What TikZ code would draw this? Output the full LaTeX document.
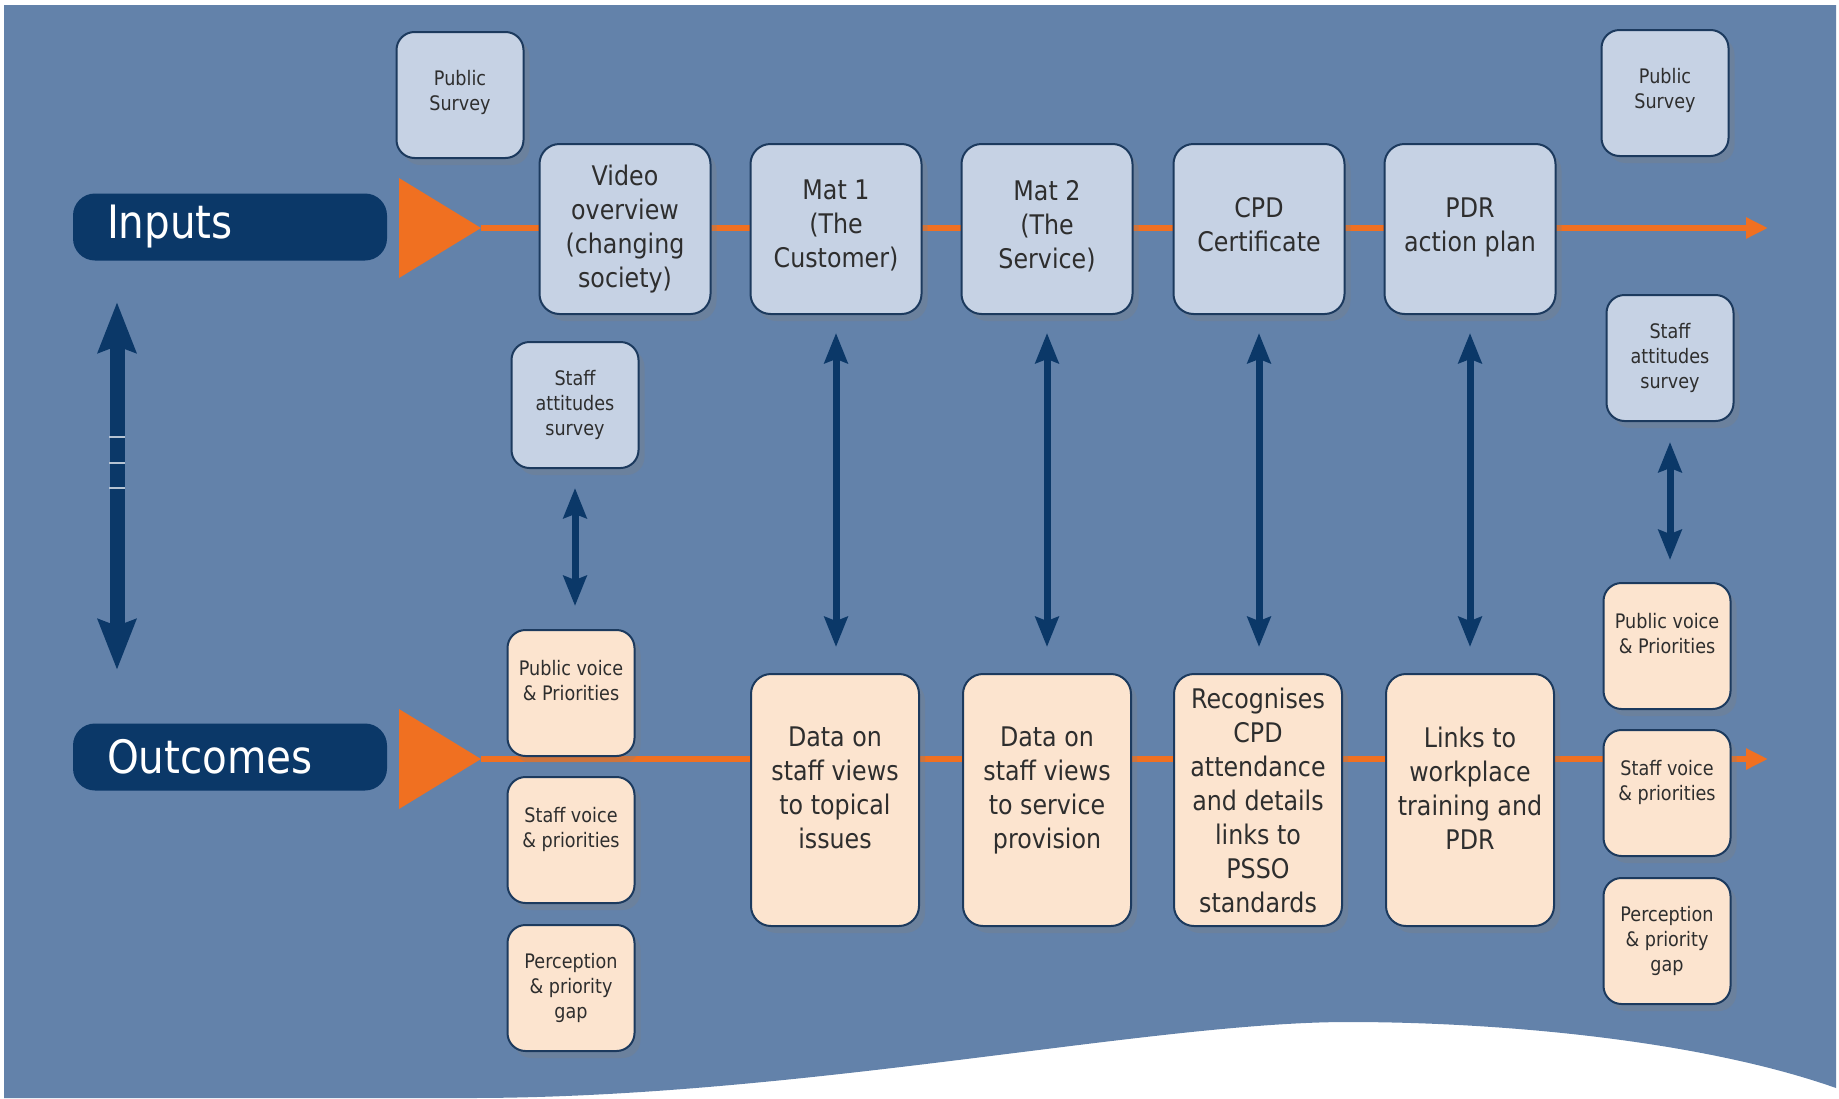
\documentclass[tikz,border=0pt]{standalone}
\usepackage{fontspec}
\setmainfont{DejaVu Sans}[FakeStretch=0.88]
\usetikzlibrary{arrows.meta,shadows}
\definecolor{panel}{HTML}{6382AA}
\definecolor{navy}{HTML}{0B3868}
\definecolor{boxblue}{HTML}{C6D2E4}
\definecolor{peach}{HTML}{FCE4CF}
\definecolor{flow}{HTML}{F07021}
\definecolor{edge}{HTML}{1C3A5E}
\definecolor{ink}{HTML}{2E2E2E}
\begin{document}
\begin{tikzpicture}[x=1pt,y=-1pt,
  box/.style={draw=edge,line width=2pt,align=center,text=ink,inner sep=0pt,
    drop shadow={shadow xshift=6pt,shadow yshift=-7pt,opacity=0.3}},
  stagebox/.style={box,fill=boxblue,rounded corners=20pt,minimum width=171pt,minimum height=170pt,
    font=\fontsize{27}{34}\selectfont},
  resultbox/.style={box,fill=peach,rounded corners=20pt,minimum width=168pt,minimum height=252pt,
    font=\fontsize{27}{34}\selectfont},
  surveybox/.style={box,fill=boxblue,rounded corners=18pt,minimum width=127pt,minimum height=126pt,
    font=\fontsize{20}{25}\selectfont},
  voicebox/.style={surveybox,fill=peach},
  sidelabel/.style={fill=navy,rounded corners=22pt,text=white,minimum height=67pt,
    text width=246pt,inner xsep=34pt,align=left,font=\fontsize{46}{50}\selectfont},
  flowline/.style={draw=flow,line width=6pt,-{Triangle[length=22pt,width=20pt]}},
  link/.style={draw=navy,line width=7pt,{Stealth[length=30pt,width=23pt,inset=4pt]}-{Stealth[length=30pt,width=23pt,inset=4pt]}}]
\useasboundingbox (0,0) rectangle (1839,1098);
% Panel with the wave at the bottom
\fill[panel] (4,5) -- (1836,5) -- (1836,1088) .. controls (1700,1040) and (1500,1022) .. (1348,1022)
  .. controls (1150,1022) and (800,1098) .. (469,1098) -- (4,1098) -- cycle;
% Orange flows
\coordinate (intip) at (481,228);
\coordinate (inend) at (1768,228);
\coordinate (outtip) at (481,759);
\coordinate (outend) at (1768,759);
\fill[flow] (intip) -- ++(-82,-50) -- ++(0,100) -- cycle;
\fill[flow] (outtip) -- ++(-82,-50) -- ++(0,100) -- cycle;
\draw[flowline] (intip) -- (inend);
\draw[flowline] (outtip) -- (outend);
\node[sidelabel] (inputs) at (230,227) {Inputs};
\node[sidelabel] (outcomes) at (230,757) {Outcomes};
% Inputs row
\node[surveybox] (publeft) at (460,95) {Public\\Survey\\[-16pt]~};
\node[stagebox] (video) at (625,229) {Video\\overview\\(changing\\society)\\[-28pt]~};
\node[stagebox] (mat1) at (836,229) {Mat 1\\(The\\Customer)\\[-24pt]~};
\node[stagebox] (mat2) at (1047,229) {Mat 2\\(The\\Service)\\[-24pt]~};
\node[stagebox] (cpd) at (1259,229) {CPD\\Certificate\\[-24pt]~};
\node[stagebox] (pdr) at (1470,229) {PDR\\action plan\\[-26pt]~};
\node[surveybox] (pubright) at (1665,93) {Public\\Survey\\[-16pt]~};
\node[surveybox] (staffleft) at (575,405) {Staff\\attitudes\\survey};
\node[surveybox] (staffright) at (1670,358) {Staff\\attitudes\\survey};
% Outcomes row
\node[resultbox] (topical) at (835,800) {Data on\\staff views\\to topical\\issues\\[-10pt]~};
\node[resultbox] (service) at (1047,800) {Data on\\staff views\\to service\\provision\\[-10pt]~};
\node[resultbox] (recog) at (1258,800) {Recognises\\CPD\\attendance\\and details\\links to\\PSSO\\standards};
\node[resultbox] (links) at (1470,800) {Links to\\workplace\\training and\\PDR\\[-10pt]~};
\node[voicebox] (pvleft) at (571,693) {Public voice\\\& Priorities\\~};
\node[voicebox] (svleft) at (571,840) {Staff voice\\\& priorities\\~};
\node[voicebox] (gapleft) at (571,988) {Perception\\\& priority\\gap};
\node[voicebox] (pvright) at (1667,646) {Public voice\\\& Priorities\\~};
\node[voicebox] (svright) at (1667,793) {Staff voice\\\& priorities\\~};
\node[voicebox] (gapright) at (1667,941) {Perception\\\& priority\\gap};
% Two way links
\draw[link,shorten <=18pt,shorten >=26pt] (mat1.south) -- (mat1.south |- topical.north);
\draw[link,shorten <=18pt,shorten >=26pt] (mat2.south) -- (mat2.south |- service.north);
\draw[link,shorten <=18pt,shorten >=26pt] (cpd.south) -- (cpd.south |- recog.north);
\draw[link,shorten <=18pt,shorten >=26pt] (pdr.south) -- (pdr.south |- links.north);
\draw[link,shorten <=19pt,shorten >=23pt] (staffleft.south) -- (staffleft.south |- pvleft.north);
\draw[link,shorten <=20pt,shorten >=22pt] (staffright.south) -- (staffright.south |- pvright.north);
\coordinate (loopup) at (117,302);
\coordinate (loopdown) at (117,670);
\draw[navy,line width=15pt,{Stealth[length=50pt,width=37pt,inset=6pt]}-{Stealth[length=50pt,width=37pt,inset=6pt]}] (loopup) -- (loopdown);
\draw[white!70!navy,line width=2pt] (109,437) -- (125,437) (109,463) -- (125,463) (109,488) -- (125,488);
\end{tikzpicture}
\end{document}
